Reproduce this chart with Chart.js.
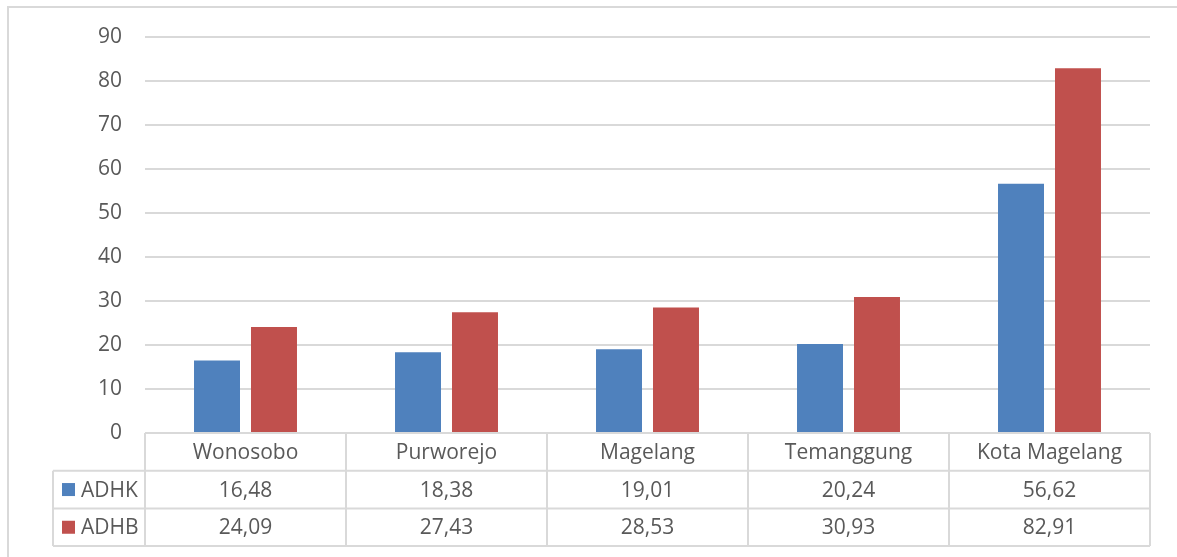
<!DOCTYPE html>
<html>
<head>
<meta charset="utf-8">
<script src="https://cdn.jsdelivr.net/npm/chart.js@4/dist/chart.umd.min.js"></script>
<style>
html,body{margin:0;padding:0;background:#fff;}
#wrap{width:1177px;height:557px;position:relative;}
</style>
</head>
<body>
<div id="wrap"><canvas id="c" width="1177" height="557"></canvas></div>
<script>
const categories = ["Wonosobo", "Purworejo", "Magelang", "Temanggung", "Kota Magelang"];
const seriesNames = ["ADHK", "ADHB"];
const adhk = [16.48, 18.38, 19.01, 20.24, 56.62];
const adhb = [24.09, 27.43, 28.53, 30.93, 82.91];
const yTicks = [0, 10, 20, 30, 40, 50, 60, 70, 80, 90];

const colors = ["#4F81BD", "#C0504D"];
const textColor = "#595959";
const lineColor = "#D9D9D9";
const FONT = "Open Sans";
const FS = 21;

const fmt = v => v.toFixed(2).replace('.', ',');

const tablePlugin = {
  id: 'dataTable',
  afterDraw(chart) {
    const ctx = chart.ctx;
    const x = chart.scales.x;
    const ca = chart.chartArea;
    const left = ca.left, right = ca.right, top = ca.bottom;
    const rowH = 37.7;
    const legLeft = 53;
    const n = categories.length;
    const step = (right - left) / n;
    ctx.save();
    ctx.strokeStyle = lineColor;
    ctx.lineWidth = 2;
    // outer chart border
    ctx.beginPath();
    ctx.moveTo(8, 560); ctx.lineTo(8, 7); ctx.lineTo(1180, 7);
    ctx.stroke();
    // table horizontal lines
    ctx.beginPath();
    ctx.moveTo(left, top); ctx.lineTo(right, top);
    for (let r = 1; r <= 3; r++) {
      const y = top + rowH * r;
      ctx.moveTo(legLeft, y); ctx.lineTo(right, y);
    }
    // vertical lines
    for (let i = 0; i <= n; i++) {
      const xv = left + step * i;
      ctx.moveTo(xv, top); ctx.lineTo(xv, top + rowH * 3);
    }
    ctx.moveTo(legLeft, top + rowH); ctx.lineTo(legLeft, top + rowH * 3);
    ctx.stroke();
    // texts
    ctx.fillStyle = textColor;
    ctx.font = FS + "px '" + FONT + "'";
    ctx.textAlign = 'center';
    ctx.textBaseline = 'middle';
    categories.forEach((c, i) => {
      const cx = x.getPixelForValue(i);
      ctx.fillText(c, cx, top + rowH * 0.5 + 1);
      ctx.fillText(fmt(adhk[i]), cx, top + rowH * 1.5 + 1);
      ctx.fillText(fmt(adhb[i]), cx, top + rowH * 2.5 + 1);
    });
    // legend keys
    seriesNames.forEach((s, k) => {
      const cy = top + rowH * (1.5 + k);
      ctx.fillStyle = colors[k];
      ctx.fillRect(62, cy - 6.5, 13, 13);
      ctx.fillStyle = textColor;
      ctx.textAlign = 'left';
      ctx.fillText(s, 81, cy + 1);
    });
    ctx.restore();
  }
};

new Chart(document.getElementById('c'), {
  type: 'bar',
  data: {
    labels: categories,
    datasets: [
      { label: seriesNames[0], data: adhk, backgroundColor: colors[0], categoryPercentage: 0.567, barPercentage: 0.807 },
      { label: seriesNames[1], data: adhb, backgroundColor: colors[1], categoryPercentage: 0.567, barPercentage: 0.807 }
    ]
  },
  options: {
    responsive: false,
    animation: false,
    devicePixelRatio: 1,
    layout: { padding: { left: 0, right: 27, top: 37, bottom: 124 } },
    plugins: { legend: { display: false }, tooltip: { enabled: false } },
    scales: {
      x: { display: false, grid: { display: false } },
      y: {
        min: 0, max: 90,
        afterFit(s) { s.width = 145; },
        afterBuildTicks(s) { s.ticks = yTicks.map(v => ({ value: v })); },
        border: { display: false },
        grid: { color: lineColor, lineWidth: 2, drawTicks: false },
        ticks: { color: textColor, font: { family: FONT, size: FS }, padding: 23 }
      }
    }
  },
  plugins: [tablePlugin]
});
</script>
</body>
</html>
